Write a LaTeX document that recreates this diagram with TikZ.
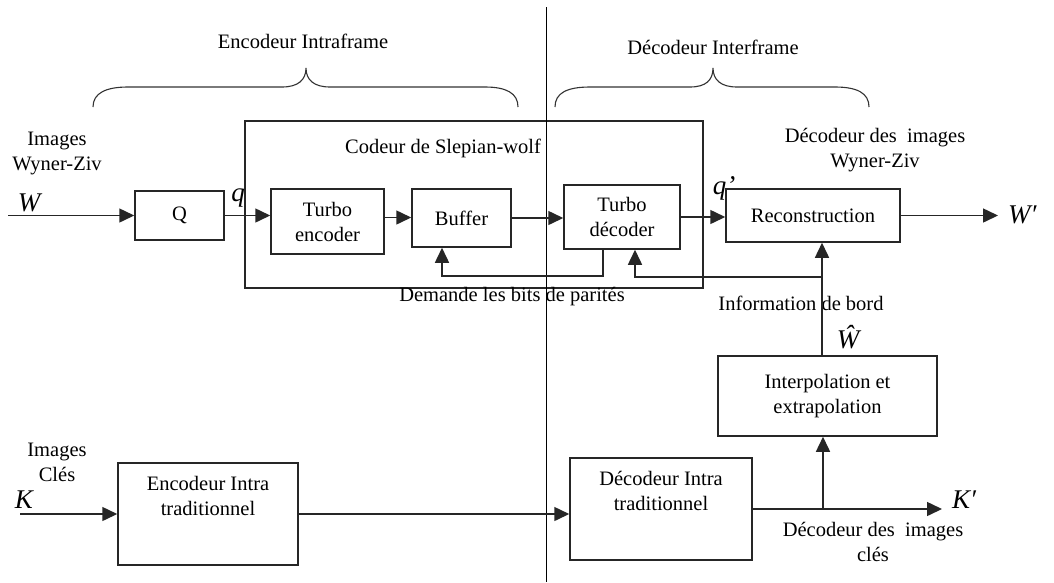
\documentclass[tikz,border=0pt]{standalone}
\usepackage{fontspec}
\setmainfont{Liberation Serif}
\usetikzlibrary{arrows.meta}
\begin{document}
\begin{tikzpicture}[x=1pt,y=-1pt,
  txt/.style={font=\fontsize{20.5}{25}\selectfont, inner sep=0pt, align=center},
  sym/.style={font=\fontsize{27}{27}\selectfont\itshape, inner sep=0pt},
  blk/.style={draw=black!85, line width=1.5pt, txt, minimum width=#1},
  arr/.style={draw=black!85, line width=1.5pt, -{Triangle[length=15pt,width=14pt]}},
  ln/.style={draw=black!85, line width=1.5pt},
  brc/.style={draw=black!80, line width=1.1pt}]
\useasboundingbox (0,0) rectangle (1054,582);
\fill[white] (0,0) rectangle (1054,582);

% braces
\draw[brc] (93,107) .. controls (93,93) and (106,87) .. (128,87) -- (282,87)
  .. controls (298,87) and (306,80) .. (306,68)
  .. controls (306,80) and (314,87) .. (330,87) -- (485,87)
  .. controls (506,87) and (518,93) .. (518,107);
\draw[brc] (555,107) .. controls (555,93) and (567,87) .. (590,87) -- (690,87)
  .. controls (706,87) and (713,80) .. (713,68)
  .. controls (713,80) and (721,87) .. (737,87) -- (835,87)
  .. controls (857,87) and (869,93) .. (869,107);
\node[txt] (encl) at (303,41) {Encodeur Intraframe};
\node[txt] (decl) at (713,47) {Décodeur Interframe};

% Slepian-Wolf box
\node[ln, minimum width=458pt, minimum height=167pt, inner sep=0pt] (slep) at (474,204.5) {};
\node[txt] (slepl) at (443,148) {Codeur de Slepian-wolf};

% blocks
\node[blk=89pt, minimum height=49pt] (q) at (179.5,215.5) {Q};
\node[blk=113pt, minimum height=65pt] (te) at (327.5,221.5) {Turbo\\encoder};
\node[blk=99pt, minimum height=58pt] (buf) at (461.5,218) {Buffer};
\node[blk=116pt, minimum height=64pt] (td) at (622,217) {Turbo\\décoder};
\node[blk=174pt, minimum height=53pt] (rec) at (813,215.5) {Reconstruction};
\node[blk=219pt, minimum height=80pt] (interp) at (827.5,396) {Interpolation et\\extrapolation};
\node[blk=180pt, minimum height=102pt] (enci) at (208,514) {Encodeur Intra\\traditionnel\\[4pt]\strut};
\node[blk=182pt, minimum height=102pt] (deci) at (661,509) {Décodeur Intra\\traditionnel\\[4pt]\strut};

% divider
\draw[line width=1pt] (546,7) -- (546,582);

% labels
\node[txt] (wzl) at (57,153) {Images\\Wyner-Ziv};
\node[sym] (wl) at (29,203) {W};
\node[sym] (ql) at (238,198) {q};
\node[sym] (qpl) at (724,188) {q’};
\node[txt] (dwzl) at (875,150) {Décodeur des~ images\\Wyner-Ziv};
\node[sym, anchor=west] (wpl) at (1008,215) {W′};
\node[txt] (dem) at (512,297) {Demande les bits de parités};
\node[txt] (info) at (801,303) {Information de bord};
\node[sym] (whl) at (848,337) {Ŵ};
\node[txt] (kcl) at (57,462) {Images\\Clés};
\node[sym] (kl) at (24,500) {K};
\node[sym, anchor=west] (kpl) at (952,500) {K′};
\node[txt] (dkl) at (873,542) {Décodeur des~ images\\clés};

% coordinates
\coordinate (win) at (8,215.5);
\coordinate (wout) at (998,215.5);
\coordinate (kin) at (20,514);
\coordinate (kout) at (942,509);
\coordinate (si) at (822,277);
\coordinate (kb) at (823,509);

% main flow
\draw[arr] (win) -- (q.west);
\draw[arr] (q.east) -- (q.east -| te.west);
\draw[arr] ([yshift=4pt]te.east) -- ([yshift=4pt]te.east -| buf.west);
\draw[arr] (buf.east) -- (buf.east -| td.west);
\draw[arr] (td.east) -- (td.east -| rec.west);
\draw[arr] (rec.east) -- (wout);

% parity request feedback
\draw[arr] ([xshift=-19pt]td.south) -- ++(0,26) -| ([xshift=-19.5pt]buf.south);

% side information
\draw[arr] ([xshift=-5.5pt]interp.north) -- ([xshift=9pt]rec.south);
\draw[arr] (si) -| ([xshift=13pt]td.south);

% key frames
\draw[arr] (kin) -- (enci.west);
\draw[arr] (enci.east) -- (enci.east -| deci.west);
\draw[arr] (deci.east) -- (kout);
\draw[arr] (kb) -- ([xshift=-4.5pt]interp.south);
\end{tikzpicture}
\end{document}
